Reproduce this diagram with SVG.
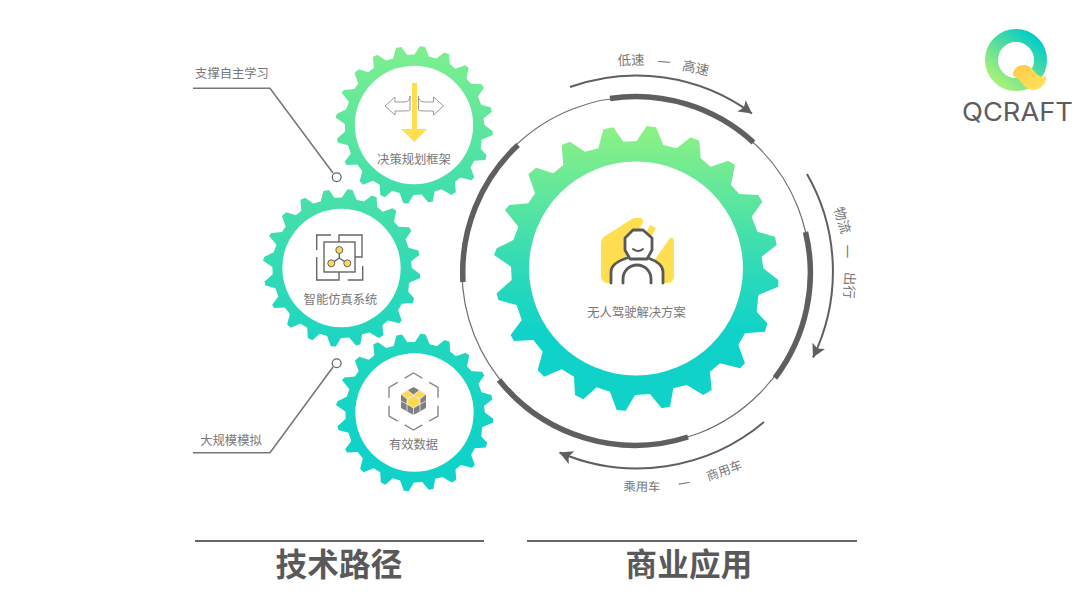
<svg xmlns="http://www.w3.org/2000/svg" width="1080" height="604" viewBox="0 0 1080 604">
<style>
text{font-family:"Noto Sans CJK SC","Noto Sans",sans-serif;fill:#777;font-size:12.3px;text-anchor:middle}
.h{font-size:31.5px;font-weight:700;fill:#595959;letter-spacing:.3px}
.a{font-size:13.5px;dominant-baseline:central}
.thin{fill:none;stroke:#707070;stroke-width:1.2}
.thick{fill:none;stroke:#5f5f5f;stroke-width:5.5}
.arr{fill:none;stroke:#5f5f5f;stroke-width:2}
.lead{fill:none;stroke:#777;stroke-width:1.6}
.dot{fill:#fff;stroke:#666;stroke-width:1.3}
.ic{fill:none;stroke:#666;stroke-width:1.4}
.y{fill:#FFDE4F}
</style>
<defs>
<path id="gear" stroke-linejoin="round" transform="scale(.33333) translate(-558,-685.5)" d="M445,325 L460,268 L490,262 L520,305 L560,303 L590,258 L618,262 L640,315 L680,325 L722,292 L748,302 L752,355 L782,380 L835,362 L855,375 L843,435 L868,462 L925,465 L937,485 L905,530 L922,575 L975,590 L980,615 L935,650 L940,685 L985,720 L985,740 L925,765 L920,815 L952,850 L945,875 L885,880 L865,915 L885,970 L870,985 L810,970 L780,995 L785,1050 L760,1065 L710,1035 L670,1045 L660,1100 L635,1105 L600,1062 L555,1065 L527,1112 L500,1110 L480,1055 L440,1042 L400,1078 L375,1065 L372,1010 L335,988 L282,1010 L263,990 L278,935 L250,900 L192,903 L182,885 L215,840 L200,795 L145,780 L140,760 L185,720 L183,680 L132,645 L140,625 L190,600 L205,560 L165,510 L178,495 L235,490 L255,460 L235,403 L258,383 L310,400 L340,375 L335,315 L360,305 L405,335 Z"/>
<linearGradient id="g0" x1="0" y1="0" x2="0" y2="1"><stop offset="0" stop-color="#8EF283"/><stop offset=".5" stop-color="#2FDAB8"/><stop offset=".72" stop-color="#10D2C8"/></linearGradient>
<linearGradient id="g1" x1="0" y1="0" x2="0" y2="1"><stop offset="0" stop-color="#7FEF8E"/><stop offset="1" stop-color="#3CDDAE"/></linearGradient>
<linearGradient id="g2" x1="0" y1="0" x2="0" y2="1"><stop offset="0" stop-color="#4BE0A8"/><stop offset="1" stop-color="#1BD5C1"/></linearGradient>
<linearGradient id="g3" x1="0" y1="0" x2="0" y2="1"><stop offset="0" stop-color="#24D7BD"/><stop offset=".7" stop-color="#10D2C8"/></linearGradient>
<linearGradient id="lg" x1="1" y1="0.1" x2="0.25" y2="1"><stop offset="0" stop-color="#00CDC9"/><stop offset=".5" stop-color="#55DC9F"/><stop offset="1" stop-color="#A2EF7C"/></linearGradient>
<linearGradient id="ly" x1="0" y1="0" x2="1" y2="1"><stop offset="0" stop-color="#FFC94A"/><stop offset="1" stop-color="#FFE65A"/></linearGradient>
<marker id="ah" markerUnits="userSpaceOnUse" markerWidth="16" markerHeight="16" refX="13" refY="7" orient="auto"><path d="M0,0 L13,7 L0,14 L3,7 Z" fill="#5f5f5f"/></marker>
</defs>
<rect width="1080" height="604" fill="#fff"/>

<g id="connectors">
<circle class="thin" cx="636" cy="271" r="174"/>
<path class="thick" d="M610,98.5 A174,174 0 0 1 753.5,142.5"/>
<path class="thick" d="M805.5,232 A174,174 0 0 1 775,378"/>
<path class="thick" d="M688,437 A174,174 0 0 1 499,380"/>
<path class="thick" d="M518,145 A174,174 0 0 0 463,282"/>
<path class="arr" d="M570,87 A196,196 0 0 1 752,113.5" marker-end="url(#ah)"/>
<path class="arr" d="M807,174 A196,196 0 0 1 813,357.5" marker-end="url(#ah)"/>
<path class="arr" d="M764,422 A197,197 0 0 1 559.5,452.5" marker-end="url(#ah)"/>
<polyline class="lead" points="193,88.3 270,88.3 333,173"/>
<circle class="dot" cx="336.7" cy="177.3" r="4.4"/>
<polyline class="lead" points="193,452.7 270,452.7 333,367"/>
<circle class="dot" cx="336.7" cy="363.3" r="4.4"/>
<line x1="195" y1="541" x2="484" y2="541" stroke="#666" stroke-width="2.2"/>
<line x1="527" y1="541" x2="857" y2="541" stroke="#666" stroke-width="2.2"/>
</g>

<g id="gear-main">
<g transform="translate(636,268.5)"><use href="#gear" fill="url(#g0)"/><circle r="107" fill="#fff"/></g>
<path class="y" d="M601,243 Q601,239 605,236 L632,219 Q636,217 640,218 Q644,219 643,222 L613,283 L606,283 Q601,281 601,276 Z"/>
<path class="y" d="M650,225 L656,228 L644,250 L640,246 Z"/>
<path class="y" d="M670,238 Q673,236 674,241 L674,277 Q673,283 667,283 L655,283 L651,265 Z"/>
<g fill="#fff" stroke="#595959" stroke-width="2.8" stroke-linejoin="round" stroke-linecap="round">
<path d="M611,283 V272 Q611,263 627,258 L648,258 Q663,263 663,272 V283 Z" stroke="none"/>
<path d="M611,283 V272 Q611,263 627,258 M663,283 V272 Q663,263 648,258" fill="none"/>
<path d="M633,230 L643,230 L652,238 L652,250 L647,259 L630,259 L625,250 L625,238 Z"/>
<path d="M633,249 Q638,253 643,249" stroke-width="2" fill="none"/>
<path d="M623,283 V279 A14,14 0 0 1 651,279 V283" fill="none"/>
</g>
<text x="636.5" y="316.5">无人驾驶解决方案</text>
</g>

<g id="gear-decision">
<g transform="translate(414,125) scale(.553)"><use href="#gear" fill="url(#g1)"/><circle r="107" fill="#fff"/></g>
<path fill="#fff" stroke="#999" stroke-width="1" d="M385,106 L395,97 V102 H404 Q410,102 410,96 V110 Q410,111 404,111 H395 V115 Z"/>
<path fill="#fff" stroke="#999" stroke-width="1" d="M443.500,106 L433.500,97 V102 H424.500 Q418.500,102 418.500,96 V110 Q418.500,111 424.500,111 H433.500 V115 Z"/>
<path class="y" d="M412,83 H417 V129 H427 L414.500,142 L401,129 H412 Z"/>
<text x="414" y="164">决策规划框架</text>
</g>

<g id="gear-simulation">
<g transform="translate(341.5,268) scale(.553)"><use href="#gear" fill="url(#g2)"/><circle r="107" fill="#fff"/></g>
<g class="ic">
<path d="M331,235 H316.700 V250 M339,242 V235 H362 V257 H355 M316.700,257 V280 H339 V272 M347.700,280 H362.700 V266"/>
<rect x="324" y="242" width="31" height="30"/>
<path d="M339.300,250 V258 M331.300,263.300 L339.300,258 L347.300,263.300"/>
</g>
<g fill="#FFD84D" stroke="#666" stroke-width="1"><circle cx="339.300" cy="250" r="3.500"/><circle cx="331.300" cy="263.300" r="3.500"/><circle cx="347.300" cy="263.300" r="3.500"/></g>
<text x="340.500" y="304">智能仿真系统</text>
</g>

<g id="gear-data">
<g transform="translate(414.5,412.5) scale(.553)"><use href="#gear" fill="url(#g3)"/><circle r="107" fill="#fff"/></g>
<g class="ic" stroke-width="1.3" style="stroke:#888">
<polyline points="404.700,378.200 413.500,373 422.300,378.200"/>
<polyline points="429.200,382.300 438,387.500 438,397.800"/>
<polyline points="438,405.700 438,416 429.200,421.200"/>
<polyline points="422.300,424.800 413.500,430 404.700,424.800"/>
<polyline points="397.800,421.200 389,416 389,405.700"/>
<polyline points="389,397.800 389,387.500 397.800,382.300"/>
</g>
<polygon points="413.500,387 426,394 426,408 413.500,415 401,408 401,394" fill="#7f7f7f"/>
<g fill="#FFD84D" stroke="#fff" stroke-width=".7">
<polygon points="401,394 408,390.500 413.500,395 407,399"/>
<polygon points="426,394 419,390.500 413.500,395 420,399"/>
<polygon points="407,399.500 413.500,396 420,399.500 420,404 413.500,408 407,404"/>
</g>
<path d="M413.500,408 V415 M407,404 V411 M420,404 V411 M401,401 L407,404 M426,401 L420,404" stroke="#fff" stroke-width=".7" fill="none"/>
<text x="413.500" y="449">有效数据</text>
</g>

<g id="labels">
<text x="232" y="78">支撑自主学习</text>
<text x="231" y="445">大规模模拟</text>
<text class="a" transform="translate(631,59) rotate(-2)">低速</text>
<text class="a" transform="translate(664,61) rotate(3)">一</text>
<text class="a" transform="translate(696,67) rotate(12)">高速</text>
<text class="a" transform="translate(843.500,220) rotate(73)">物流</text>
<text class="a" transform="translate(848,251.500) rotate(90)">一</text>
<text class="a" transform="translate(850.500,285.500) rotate(92)">出行</text>
<text class="a" style="font-size:12.300px" transform="translate(642,486) rotate(1)">乘用车</text>
<text class="a" style="font-size:12.300px" transform="translate(684,483) rotate(-10)">一</text>
<text class="a" style="font-size:12.300px" transform="translate(724,470) rotate(-20)">商用车</text>
<text class="h" x="339" y="576">技术路径</text>
<text class="h" x="689" y="576">商业应用</text>
</g>

<g id="logo">
<circle cx="1016" cy="60" r="24.500" fill="none" stroke="url(#lg)" stroke-width="13"/>
<path fill="url(#ly)" d="M1013,75 C1013,68 1019,65 1024,65 C1031,65 1034,72 1038,75 C1041,77 1044,77 1046,76 C1047,83 1041,90 1033,90 C1026,90 1023,84 1019,80 C1017,78 1014,77 1013,75 Z"/>
<text x="1017.500" y="121" textLength="111" lengthAdjust="spacingAndGlyphs" style="font-family:Inter,'Liberation Sans',sans-serif;font-size:25px;fill:#5d5d5d;font-weight:400">QCRAFT</text>
</g>
</svg>
